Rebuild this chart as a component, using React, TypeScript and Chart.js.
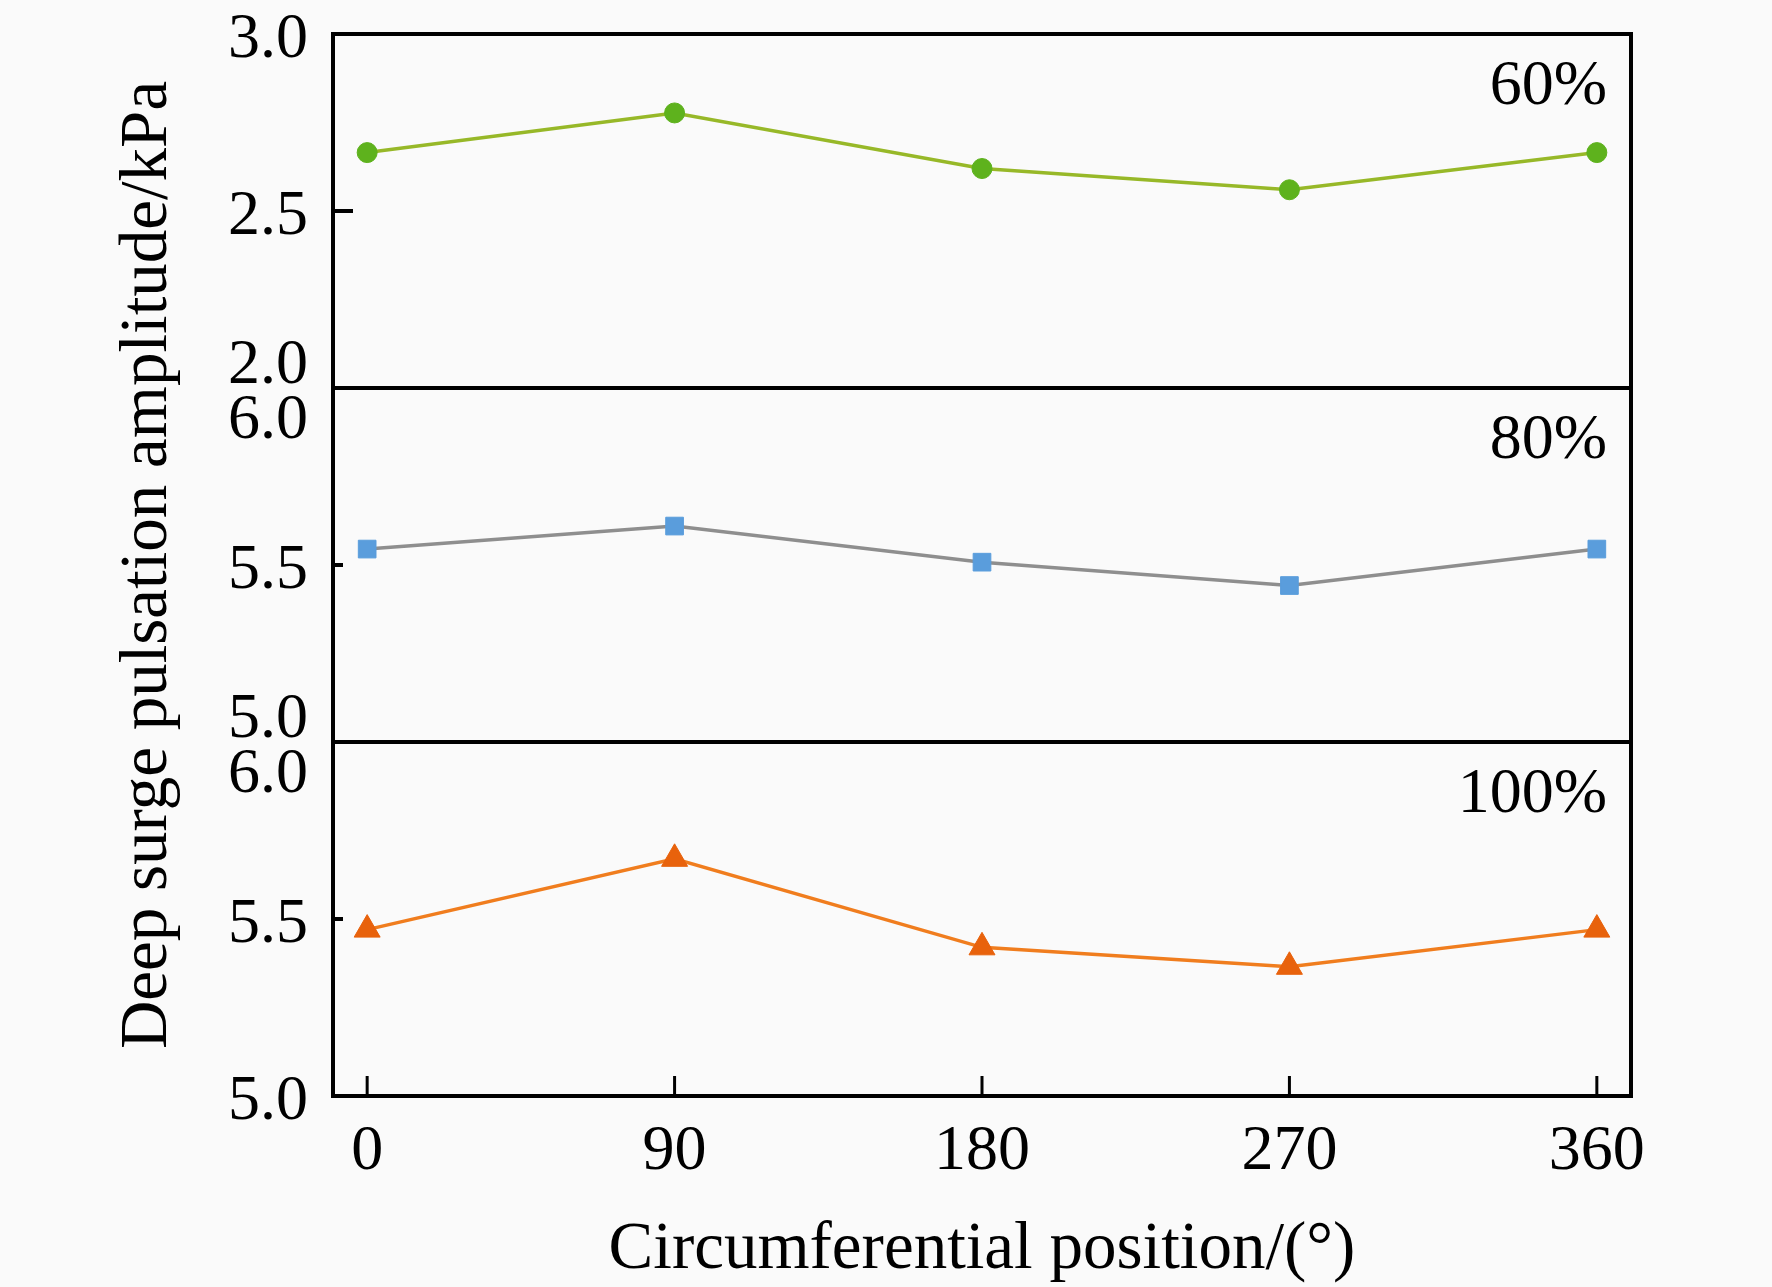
import React, { useEffect, useRef } from "react";
import { Chart, registerables } from "chart.js";

Chart.register(...registerables);

// circumferential positions (deg) and x tick labels
const positions = [0, 90, 180, 270, 360];
const xTicks = [0, 90, 180, 270, 360];

// deep surge pulsation amplitude (kPa) per flow condition
const amp60 = [2.665, 2.777, 2.62, 2.56, 2.665];
const amp80 = [5.545, 5.61, 5.508, 5.442, 5.545];
const amp100 = [5.47, 5.67, 5.42, 5.365, 5.47];

const panelLabels = ["60%", "80%", "100%"];
const panelIds = ["y60", "y80", "y100"];
const yMins = [2.0, 5.0, 5.0];
const yMaxs = [3.0, 6.0, 6.0];
const panelTickLen = [20, 10, 10];

const FONT = '"Liberation Serif", "Times New Roman", serif';

const frame = {
  id: "frame",
  beforeDraw(chart: any) {
    const { ctx, width, height } = chart;
    ctx.save();
    ctx.fillStyle = "#fafafa";
    ctx.fillRect(0, 0, width, height);
    ctx.restore();
  },
  afterDraw(chart: any) {
    const { ctx, chartArea: a } = chart;
    ctx.save();
    ctx.strokeStyle = "#000";
    ctx.fillStyle = "#000";
    ctx.lineWidth = 4;
    ctx.strokeRect(a.left, a.top, a.right - a.left, a.bottom - a.top);

    panelIds.forEach((id, i) => {
      const s = chart.scales[id];
      if (i > 0) {
        ctx.beginPath();
        ctx.moveTo(a.left, s.top);
        ctx.lineTo(a.right, s.top);
        ctx.stroke();
      }
      ctx.font = `64px ${FONT}`;
      s.ticks.forEach((t: any) => {
        const y = s.getPixelForValue(t.value);
        const isTop = Math.abs(t.value - yMaxs[i]) < 1e-6;
        const isBottom = Math.abs(t.value - yMins[i]) < 1e-6;
        // inward minor ticks between the panel borders
        if (!isTop && !isBottom) {
          ctx.beginPath();
          ctx.moveTo(a.left, y);
          ctx.lineTo(a.left + panelTickLen[i], y);
          ctx.stroke();
        }
        // tick labels, pushed inside the panel where they meet a neighbour
        let base = y + 23;
        if (isTop && i > 0) base = y + 50;
        if (isBottom && i < 2) base = y - 5;
        ctx.textAlign = "right";
        ctx.textBaseline = "alphabetic";
        ctx.fillText(Number(t.value).toFixed(1), a.left - 25, base);
      });
      ctx.textAlign = "right";
      ctx.textBaseline = "alphabetic";
      ctx.fillText(panelLabels[i], a.right - 24, s.top + 70);
    });

    const xs = chart.scales.x;
    ctx.lineWidth = 3;
    xs.ticks.forEach((t: any) => {
      const x = xs.getPixelForValue(t.value);
      ctx.beginPath();
      ctx.moveTo(x, a.bottom);
      ctx.lineTo(x, a.bottom - 20);
      ctx.stroke();
    });
    ctx.restore();
  },
};

const yScale = (i: number) => ({
  type: "linear",
  position: "left",
  stack: "panels",
  stackWeight: 1,
  weight: 3 - i,
  min: yMins[i],
  max: yMaxs[i],
  grid: { display: false, drawTicks: false },
  border: { display: false },
  ticks: { display: false, stepSize: 0.5, autoSkip: false },
  title:
    i === 1
      ? {
          display: true,
          text: "Deep surge pulsation amplitude/kPa",
          color: "#000",
          font: { family: FONT, size: 67 },
          padding: { top: 108, bottom: 0 },
        }
      : { display: false },
  afterFit: (s: any) => {
    s.width = 333;
    s.paddingTop = 0;
    s.paddingBottom = 0;
  },
});

const App: React.FC = () => {
  const chartRef = useRef<HTMLCanvasElement | null>(null);

  useEffect(() => {
    document.body.style.margin = "0";
    if (!chartRef.current) return;
    const context = chartRef.current.getContext("2d");
    if (!context) return;

    const chartInstance = new Chart(context, {
      type: "line",
      data: {
        datasets: [
          {
            label: "60%",
            data: positions.map((x, i) => ({ x, y: amp60[i] })),
            yAxisID: "y60",
            borderColor: "#97b828",
            borderWidth: 3.5,
            pointStyle: "circle",
            pointRadius: 10,
            pointBackgroundColor: "#5eb21d",
            pointBorderColor: "#5eb21d",
            pointBorderWidth: 1,
          },
          {
            label: "80%",
            data: positions.map((x, i) => ({ x, y: amp80[i] })),
            yAxisID: "y80",
            borderColor: "#8e8e8e",
            borderWidth: 3.5,
            pointStyle: "rect",
            pointRadius: 12.5,
            pointBackgroundColor: "#5a9ddc",
            pointBorderColor: "#5a9ddc",
            pointBorderWidth: 1,
          },
          {
            label: "100%",
            data: positions.map((x, i) => ({ x, y: amp100[i] })),
            yAxisID: "y100",
            borderColor: "#f07d1e",
            borderWidth: 3.5,
            pointStyle: "triangle",
            pointRadius: 15,
            pointBackgroundColor: "#e8620c",
            pointBorderColor: "#e8620c",
            pointBorderWidth: 1,
          },
        ],
      },
      options: {
        animation: false,
        responsive: true,
        maintainAspectRatio: false,
        layout: { padding: { top: 34, right: 141, bottom: 0, left: 0 } },
        plugins: { legend: { display: false }, tooltip: { enabled: false } },
        scales: {
          x: {
            type: "linear",
            min: -10,
            max: 370,
            grid: { display: false, drawTicks: false },
            border: { display: false },
            afterBuildTicks: (s: any) => {
              s.ticks = xTicks.map((v) => ({ value: v }));
            },
            ticks: {
              padding: 18,
              color: "#000",
              autoSkip: false,
              maxRotation: 0,
              font: { family: FONT, size: 64 },
              callback: (v: any) => String(v),
            },
            title: {
              display: true,
              text: "Circumferential position/(°)",
              color: "#000",
              font: { family: FONT, size: 67, lineHeight: 1.1 },
              padding: { top: 0, bottom: 0 },
            },
            afterFit: (s: any) => {
              s.height = 191;
              s.paddingLeft = 0;
              s.paddingRight = 0;
            },
          },
          y60: yScale(0),
          y80: yScale(1),
          y100: yScale(2),
        } as any,
      },
      plugins: [frame],
    } as any);

    return () => {
      chartInstance.destroy();
    };
  }, []);

  return (
    <div style={{ width: 1772, height: 1287, position: "relative", background: "#fafafa" }}>
      <canvas ref={chartRef} />
    </div>
  );
};

export default App;
